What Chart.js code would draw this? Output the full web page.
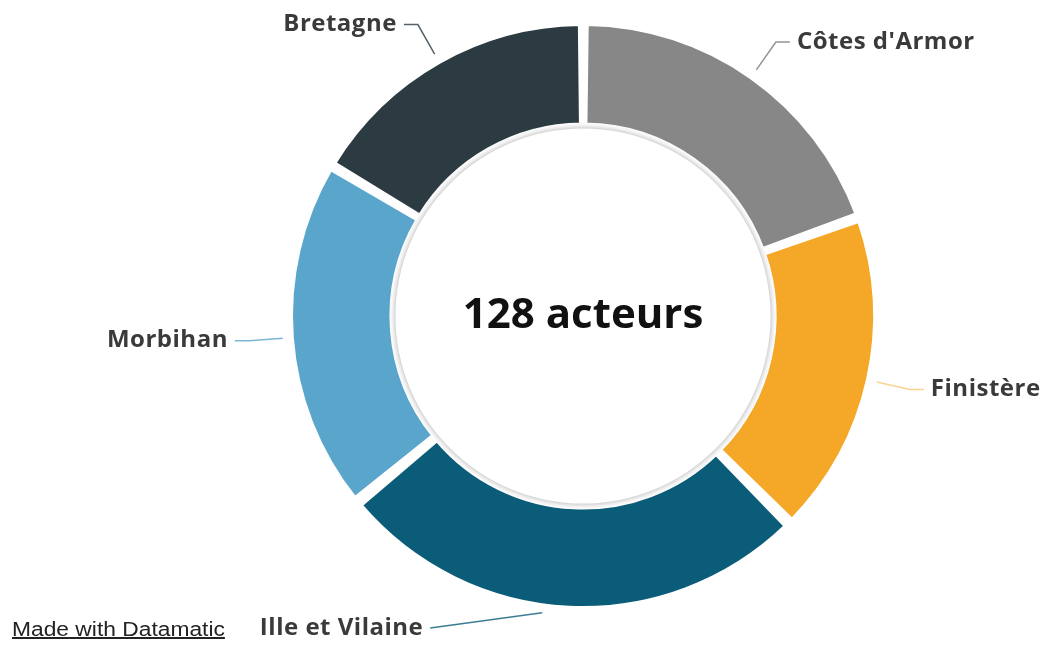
<!DOCTYPE html>
<html>
<head>
<meta charset="utf-8">
<script src="https://cdn.jsdelivr.net/npm/chart.js@4/dist/chart.umd.min.js"></script>
<style>
  body { margin: 0; background: #fff; }
  #wrap { position: relative; width: 1058px; height: 645px; }
  #credit {
    position: absolute; left: 12px; top: 618px;
    font-family: "Liberation Sans", Arial, sans-serif; font-size: 20px;
    color: #222; text-decoration: underline;
    transform: scaleX(1.14); transform-origin: left top;
  }
</style>
</head>
<body>
<div id="wrap">
  <canvas id="donut" width="1058" height="645"></canvas>
  <a id="credit">Made with Datamatic</a>
</div>
<script>
// départements, dans l'ordre des aiguilles d'une montre depuis midi
const departements = ["Côtes d'Armor", 'Finistère', 'Ille et Vilaine', 'Morbihan', 'Bretagne'];
// nombre d'acteurs par département
const acteurs = [25, 23, 34, 25, 21];
const couleurs = ['#878787', '#f5a727', '#0b5c78', '#5aa5cb', '#2c3a42'];
const lignes = ['rgba(120,120,120,0.8)', 'rgba(245,167,39,0.5)', 'rgba(11,92,120,0.8)', 'rgba(90,165,203,0.8)', 'rgba(44,58,66,0.8)'];

const total = acteurs.reduce((a, b) => a + b, 0);

// cercle central avec ombre + texte
const centre = {
  id: 'centre',
  afterDatasetsDraw(chart) {
    const ctx = chart.ctx;
    const arc = chart.getDatasetMeta(0).data[0];
    const { x, y, innerRadius } = arc.getProps(['x', 'y', 'innerRadius'], true);
    ctx.save();
    ctx.shadowColor = 'rgba(0,0,0,0.35)';
    ctx.shadowBlur = 6;
    ctx.beginPath();
    ctx.arc(x, y, innerRadius + 1, 0, Math.PI * 2);
    ctx.fillStyle = '#fff';
    ctx.fill();
    ctx.restore();

    ctx.save();
    ctx.font = 'bold 42px "Open Sans", sans-serif';
    ctx.fillStyle = '#111';
    ctx.textAlign = 'center';
    ctx.textBaseline = 'middle';
    ctx.fillText(total + ' acteurs', x, y);
    ctx.restore();
  }
};

// étiquettes avec traits de rappel
const etiquettes = {
  id: 'etiquettes',
  afterDraw(chart) {
    const ctx = chart.ctx;
    const bas = chart.height - 17;
    chart.getDatasetMeta(0).data.forEach((arc, i) => {
      const p = arc.getProps(['x', 'y', 'startAngle', 'endAngle', 'outerRadius'], true);
      const mid = (p.startAngle + p.endAngle) / 2;
      const cos = Math.cos(mid), sin = Math.sin(mid);
      const droite = cos >= 0;
      let x0 = p.x + cos * (p.outerRadius + 14);
      let y0 = p.y + sin * (p.outerRadius + 14);
      let x1 = p.x + cos * (p.outerRadius + 48);
      let y1 = p.y + sin * (p.outerRadius + 48);
      let x2 = x1 + (droite ? 14 : -14);
      let direct = false;
      if (y1 > bas) {
        // trop bas : on rabat l'étiquette sur le côté, trait presque horizontal
        x0 -= 26; y0 -= 4;
        y1 = bas;
        x2 = x0 - 112;
        direct = true;
      }
      ctx.save();
      ctx.strokeStyle = lignes[i];
      ctx.lineWidth = 1.5;
      ctx.beginPath();
      ctx.moveTo(x0, y0);
      if (!direct) ctx.lineTo(x1, y1);
      ctx.lineTo(x2, y1);
      ctx.stroke();
      ctx.font = 'bold 24px "Open Sans", sans-serif';
      ctx.letterSpacing = '0.5px';
      ctx.fillStyle = '#3a3a3a';
      ctx.textBaseline = 'middle';
      ctx.textAlign = droite ? 'left' : 'right';
      ctx.fillText(chart.data.labels[i], x2 + (droite ? 7 : -7), y1);
      ctx.restore();
    });
  }
};

new Chart(document.getElementById('donut'), {
  type: 'doughnut',
  data: {
    labels: departements,
    datasets: [{
      data: acteurs,
      backgroundColor: couleurs,
      borderWidth: 4,
      borderColor: '#fff',
      spacing: 10
    }]
  },
  options: {
    responsive: false,
    animation: false,
    cutout: '65%',
    layout: { padding: { top: 22, bottom: 35, left: 108, right: 0 } },
    plugins: { legend: { display: false }, tooltip: { enabled: false } }
  },
  plugins: [centre, etiquettes]
});
</script>
</body>
</html>
